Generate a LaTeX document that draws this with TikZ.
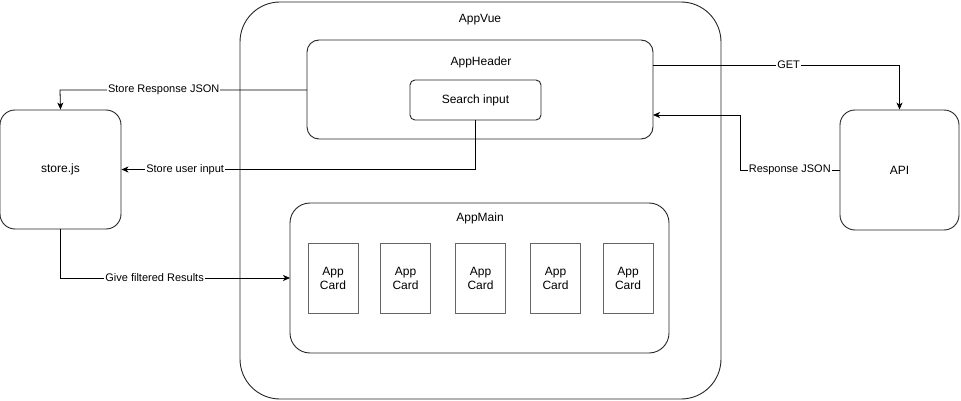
\documentclass[tikz,border=0pt]{standalone}
\usepackage{fontspec}
\setmainfont{Liberation Sans}
\usetikzlibrary{arrows.meta}
\begin{document}
\begin{tikzpicture}[x=1pt,y=-1pt,
  box/.style={draw=black!85, line width=0.9pt, fill=white},
  card/.style={draw=black!60, line width=1pt, fill=white, minimum width=50pt, minimum height=70pt, align=center, font=\fontsize{12}{14}\selectfont, inner sep=0pt},
  lbl/.style={font=\fontsize{12}{14}\selectfont},
  conn/.style={draw=black, line width=0.8pt, -{Stealth[length=7pt,width=6pt,inset=2pt]}},
  elbl/.style={fill=white, inner sep=1pt, font=\fontsize{11}{13}\selectfont}
]
\useasboundingbox (0,0) rectangle (961,401);
% AppVue
\draw[box, rounded corners=40pt] (240,2) rectangle (721,399);
\node[lbl] (appvue) at (480,20) {AppVue};
% AppHeader
\draw[box, rounded corners=12pt] (307,40) rectangle (653,139);
\coordinate (hdrL) at (307,90);
\coordinate (hdrR1) at (653,65);
\coordinate (hdrR2) at (653,115);
\node[lbl] (appheader) at (481,62) {AppHeader};
% Search input
\node[box, rounded corners=5pt, minimum width=131pt, minimum height=40pt, lbl, inner sep=0pt] (search) at (475.5,100) {Search input};
% store.js
\node[box, rounded corners=15pt, minimum width=121pt, minimum height=119pt, lbl, inner sep=0pt] (store) at (60.5,169.5) {store.js};
% API
\node[box, rounded corners=15pt, minimum width=119pt, minimum height=120pt, lbl, inner sep=0pt] (api) at (899.5,170) {API};
% AppMain
\draw[box, rounded corners=20pt] (290,203) rectangle (669,353);
\coordinate (mainL) at (290,278);
\node[lbl] (appmain) at (480,218) {AppMain};
% Cards
\node[card] (c1) at (333,278) {App\\Card};
\node[card] (c2) at (405.5,278) {App\\Card};
\node[card] (c3) at (480.5,278) {App\\Card};
\node[card] (c4) at (555.5,278) {App\\Card};
\node[card] (c5) at (628,278) {App\\Card};
% Connectors
\coordinate (k1) at (60,90);
\draw[conn] (hdrL) -- node[elbl, pos=0.58] {Store Response JSON} (k1) -- (store.north);
\coordinate (k2) at (search.south |- store.east);
\draw[conn] (search.south) -- (k2) -- node[elbl, pos=0.82] {Store user input} (store.east);
\coordinate (k3) at (store.south |- mainL);
\draw[conn] (store.south) -- (k3) -- node[elbl, pos=0.41] {Give filtered Results} (mainL);
\coordinate (k4) at (api.north |- hdrR1);
\draw[conn] (hdrR1) -- node[elbl, pos=0.55] {GET} (k4) -- (api.north);
\coordinate (k5) at (740,170);
\coordinate (k6) at (740,115);
\draw[conn] (api.west) -- node[elbl, pos=0.5] {Response JSON} (k5) -- (k6) -- (hdrR2);
\end{tikzpicture}
\end{document}
